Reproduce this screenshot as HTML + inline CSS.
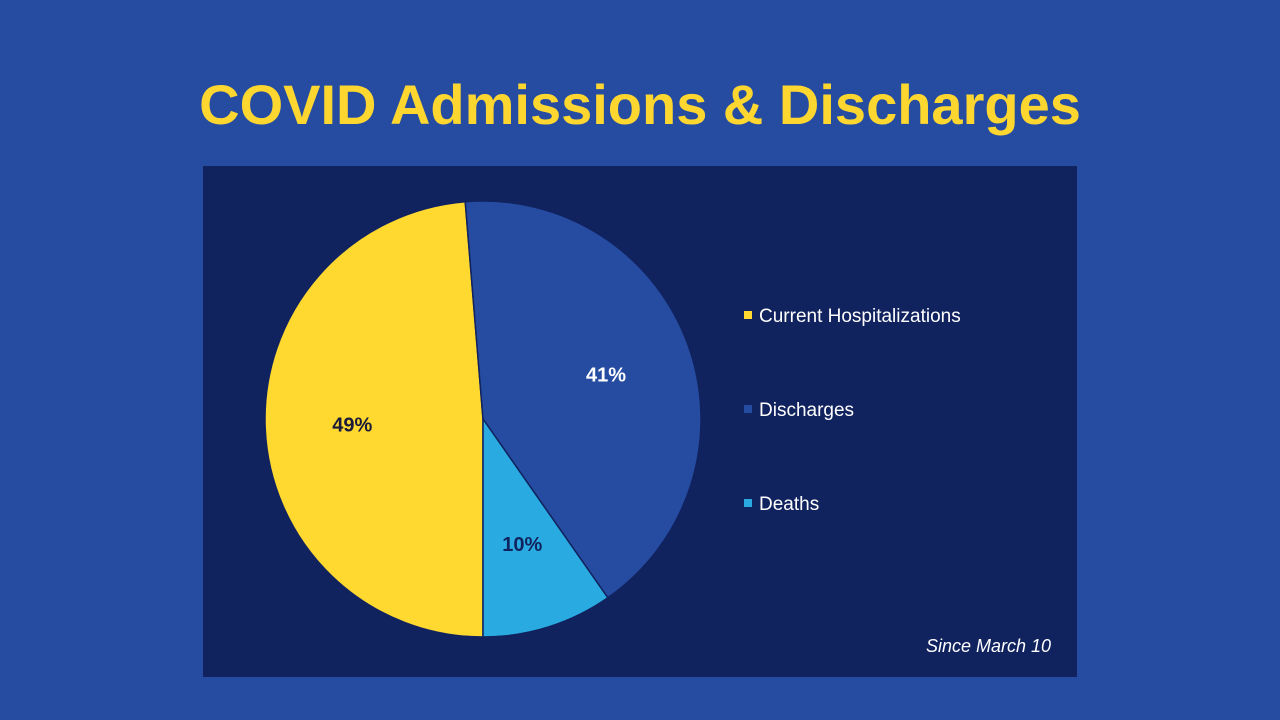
<!DOCTYPE html>
<html><head><meta charset="utf-8">
<style>
html,body{margin:0;padding:0;}
body{width:1280px;height:720px;background:#264ca2;position:relative;overflow:hidden;font-family:"Liberation Sans",Arial,sans-serif;}
#title{position:absolute;left:0;width:1280px;top:72px;text-align:center;color:#fdd72f;font-weight:bold;font-size:56px;line-height:66px;}
#chart{position:absolute;left:203px;top:166px;width:874px;height:511px;background:#11235f;}
</style></head>
<body>
<div id="title">COVID Admissions &amp; Discharges</div>
<div id="chart">
<svg id="svg" width="874" height="511" xmlns="http://www.w3.org/2000/svg">
<text x="848" y="486" text-anchor="end" fill="#ffffff" font-size="18" font-style="italic" font-family="Liberation Sans, Arial, sans-serif">Since March 10</text>
</svg>
</div>
<script>
const categories = ["Current Hospitalizations","Discharges","Deaths"];
const values = [48.7, 41.6, 9.7];
const labels = ["49%","41%","10%"];
const colors = ["#ffd92f","#264ca2","#29abe2"];
const labelColors = ["#1a1a3a","#ffffff","#11235f"];
const svg = document.getElementById('svg');
const NS = "http://www.w3.org/2000/svg";
const cx = 280, cy = 253, r = 218, startDeg = 180;
const total = values.reduce((a,b)=>a+b,0);
function pt(deg, rad){const a=(deg-90)*Math.PI/180;return [cx+rad*Math.cos(a), cy+rad*Math.sin(a)];}
let ang = startDeg;
values.forEach((v,i)=>{
  const sweep = v/total*360;
  const [x1,y1]=pt(ang,r),[x2,y2]=pt(ang+sweep,r);
  const p=document.createElementNS(NS,'path');
  p.setAttribute('d',`M${cx},${cy} L${x1},${y1} A${r},${r} 0 ${sweep>180?1:0} 1 ${x2},${y2} Z`);
  p.setAttribute('fill',colors[i]);
  p.setAttribute('stroke','#11235f');
  p.setAttribute('stroke-width','1.5');
  
  
  svg.appendChild(p);
  const [lx,ly]=pt(ang+sweep/2, r*0.6);
  const t=document.createElementNS(NS,'text');
  t.setAttribute('x',lx);t.setAttribute('y',ly+7);
  t.setAttribute('text-anchor','middle');
  t.setAttribute('font-size','20');t.setAttribute('font-weight','bold');
  t.setAttribute('font-family','Liberation Sans, Arial, sans-serif');
  t.setAttribute('fill',labelColors[i]);
  t.textContent=labels[i];
  
  
  svg.appendChild(t);
  ang+=sweep;
});
categories.forEach((c,i)=>{
  const y = 150 + i*94;
  const g=document.createElementNS(NS,'g');
  
  
  const s=document.createElementNS(NS,'rect');
  s.setAttribute('x',541);s.setAttribute('y',y-5);s.setAttribute('width',8);s.setAttribute('height',8);
  s.setAttribute('fill',colors[i]);
  g.appendChild(s);
  const t=document.createElementNS(NS,'text');
  t.setAttribute('x',556);t.setAttribute('y',y+6);
  t.setAttribute('font-size','19');t.setAttribute('fill','#ffffff');
  t.setAttribute('font-family','Liberation Sans, Arial, sans-serif');
  t.textContent=c;
  g.appendChild(t);
  svg.appendChild(g);
});
</script>
</body></html>
